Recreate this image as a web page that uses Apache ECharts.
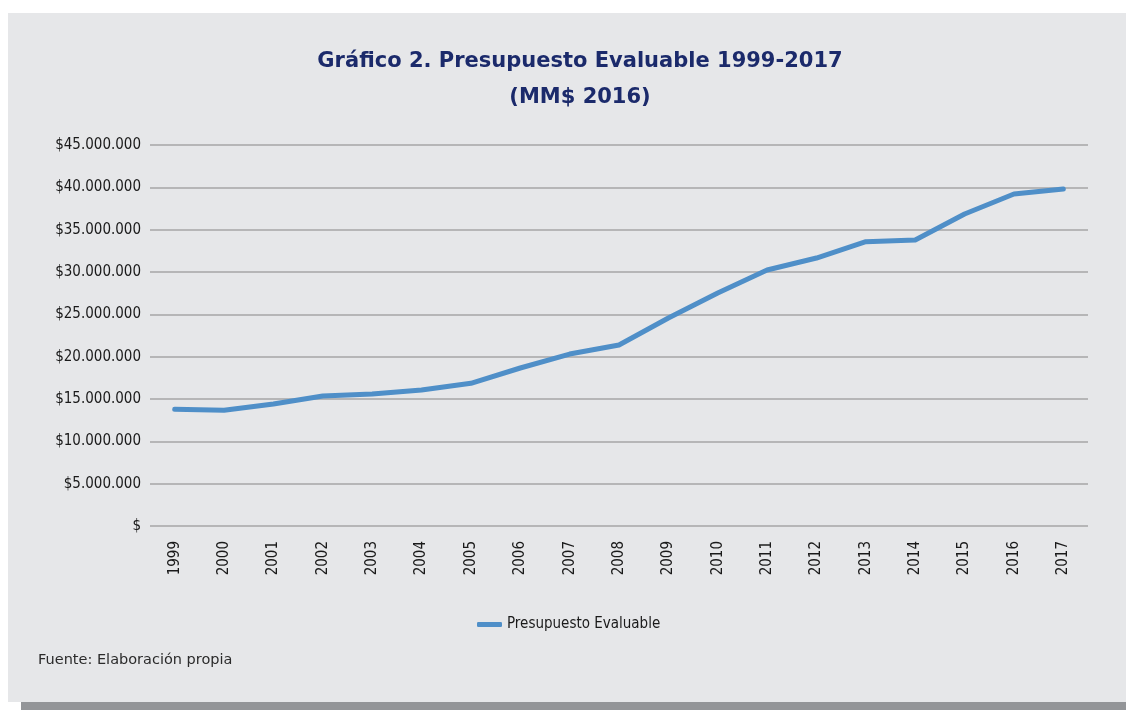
<!DOCTYPE html>
<html>
<head>
<meta charset="utf-8">
<script src="https://cdn.jsdelivr.net/npm/echarts@6/dist/echarts.min.js"></script>
<style>
  html, body { margin: 0; padding: 0; background: #fff; }
  #presupuesto { width: 1126px; height: 710px; }
</style>
</head>
<body>
<div id="presupuesto"></div>
<script>
// años del eje x
var years = ['1999', '2000', '2001', '2002', '2003', '2004', '2005', '2006', '2007', '2008',
  '2009', '2010', '2011', '2012', '2013', '2014', '2015', '2016', '2017']
// presupuesto evaluable (pesos)
var presupuesto = [13780000, 13670000, 14410000, 15350000, 15590000, 16060000, 16850000, 18660000,
  20310000, 21380000, 24570000, 27520000, 30240000, 31650000, 33580000, 33780000, 36850000,
  39210000, 39800000]
var seriesName = 'Presupuesto Evaluable'
var titleLines = ['Gráfico 2. Presupuesto Evaluable 1999-2017', '(MM$ 2016)']
var fuente = 'Fuente: Elaboración propia'

var narrow = "'Liberation Sans Narrow', 'DejaVu Sans Condensed', 'Arial Narrow', sans-serif"

function pesos(v) {
  if (v === 0) return '$'
  return '$' + String(v).replace(/\B(?=(\d{3})+(?!\d))/g, '.')
}

var chart = echarts.init(document.getElementById('presupuesto'), null, { renderer: 'canvas' })
chart.setOption({
  backgroundColor: '#ffffff',
  animation: false,
  graphic: [
    { type: 'rect', z: -10, shape: { x: 8, y: 13, width: 1118, height: 689 }, style: { fill: '#e6e7e9' } },
    { type: 'rect', z: -10, shape: { x: 21, y: 702, width: 1105, height: 8 }, style: { fill: '#939598' } },
    {
      type: 'text', left: 38, top: 653,
      style: { text: fuente, fill: '#2b2b2b', font: '14.5px "DejaVu Sans", sans-serif' }
    }
  ],
  title: {
    text: titleLines.join('\n'),
    left: 575,
    top: 39,
    textAlign: 'center',
    textStyle: {
      color: '#1b2a6b',
      fontFamily: "'DejaVu Sans', sans-serif",
      fontWeight: 'bold',
      fontSize: 21,
      lineHeight: 36
    }
  },
  legend: {
    data: [seriesName],
    left: 472,
    top: 612,
    icon: 'roundRect',
    itemWidth: 25,
    itemHeight: 5,
    itemGap: 14,
    textStyle: { color: '#1a1a1a', fontFamily: narrow, fontSize: 15 }
  },
  grid: { left: 150, right: 38, top: 145, bottom: 184, containLabel: false },
  xAxis: {
    type: 'category',
    data: years,
    boundaryGap: true,
    axisLine: { show: false },
    axisTick: { show: false },
    axisLabel: {
      rotate: 90,
      margin: 15,
      color: '#1a1a1a',
      fontFamily: narrow,
      fontSize: 15
    }
  },
  yAxis: {
    type: 'value',
    min: 0,
    max: 45000000,
    interval: 5000000,
    axisLine: { show: false },
    axisTick: { show: false },
    splitLine: { lineStyle: { color: '#a6a6a6', width: 1.5 } },
    axisLabel: {
      margin: 9,
      color: '#1a1a1a',
      fontFamily: narrow,
      fontSize: 15,
      formatter: pesos
    }
  },
  series: [
    {
      name: seriesName,
      type: 'line',
      data: presupuesto,
      symbol: 'none',
      lineStyle: { color: '#4f8fc8', width: 5, cap: 'round', join: 'round' },
      itemStyle: { color: '#4f8fc8' }
    }
  ]
})
</script>
</body>
</html>
